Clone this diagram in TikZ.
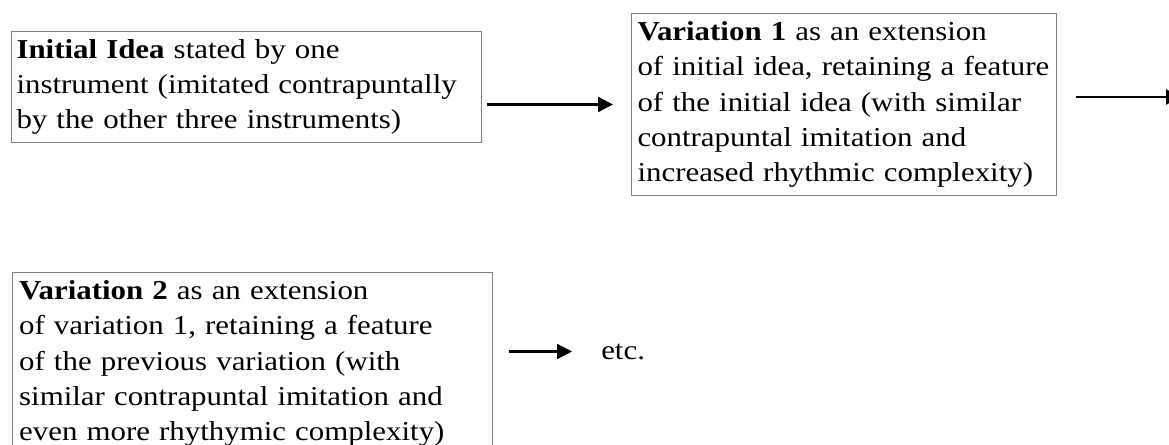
\documentclass[tikz,border=0pt]{standalone}
\usepackage{fontspec}
\setmainfont[FakeStretch=1.13]{Liberation Serif}
\usetikzlibrary{arrows.meta}
\hyphenpenalty=10000
\exhyphenpenalty=10000
\begin{document}
\begin{tikzpicture}[x=0.75pt,y=-0.75pt,
  box/.style={draw=black!50, line width=0.75pt, rectangle, anchor=north west,
    align=left, font=\fontsize{20.5}{26.4}\selectfont, inner ysep=0pt},
  arr/.style={line width=1.6pt, -{Triangle[length=11.25pt,width=11.25pt]}},
  lbl/.style={font=\fontsize{20.5}{26.4}\selectfont, inner sep=0pt}]
\useasboundingbox (0,0) rectangle (1169,445);
\clip (0,0) rectangle (1169,445);
\node[box, minimum width=352.5pt, minimum height=83.25pt, inner xsep=3.75pt, text width=345pt] (box1) at (11,31)
  {\textbf{Initial Idea} stated by one\\instrument (imitated contrapuntally\\by the other three instruments)};
\node[box, minimum width=318.75pt, minimum height=136.5pt, inner xsep=4.5pt, text width=309.75pt] (box2) at (631,13)
  {\textbf{Variation 1} as an extension\\of initial idea, retaining a feature\\of the initial idea (with similar\\contrapuntal imitation and\\increased rhythmic complexity)};
\node[box, minimum width=360pt, minimum height=136.5pt, inner xsep=5pt, text width=350pt] (box3) at (12,272)
  {\textbf{Variation 2} as an extension\\of variation 1, retaining a feature\\of the previous variation (with\\similar contrapuntal imitation and\\even more rhythymic complexity)};
\node[lbl, anchor=base west] (etc) at (601,359) {etc.};
\coordinate (e2) at (1181,97);
\path ([xshift=3.75pt]box1.east) coordinate (a1s);
\path ([xshift=14.25pt]box2.east) coordinate (a2s);
\path ([xshift=12pt]box3.east) coordinate (a3s);
\draw[arr] (a1s |- box2.west) -- ([xshift=-13.5pt]box2.west);
\draw[arr] (a2s |- e2) -- (e2);
\draw[arr] (a3s |- etc.west) -- ([xshift=-21.75pt]etc.west);
\end{tikzpicture}
\end{document}
